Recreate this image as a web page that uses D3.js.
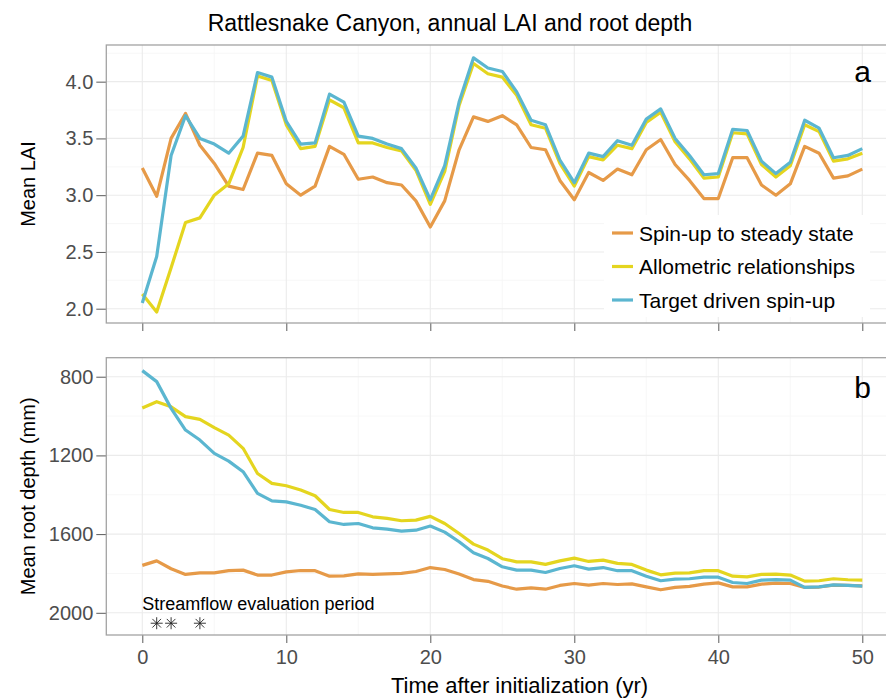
<!DOCTYPE html>
<html>
<head>
<meta charset="utf-8">
<script src="https://cdn.jsdelivr.net/npm/d3@7"></script>
<style>
  html, body { margin: 0; padding: 0; background: #fff; }
  svg { display: block; font-family: "Liberation Sans", Arial, Helvetica, sans-serif; }
</style>
</head>
<body>
<svg id="chart" width="886" height="700"></svg>
<script>
// ---------------- DATA ----------------
const years = d3.range(0, 51);
const seriesNames = ["Spin-up to steady state", "Allometric relationships", "Target driven spin-up"];
const seriesColors = ["#e69a48", "#e4d51f", "#5bb6d0"];

const laiSpinup = [3.24,2.99,3.50,3.72,3.44,3.28,3.08,3.05,3.37,3.35,3.10,3.00,3.08,3.43,3.36,3.14,3.16,3.11,3.09,2.95,2.72,2.95,3.40,3.69,3.65,3.70,3.62,3.42,3.40,3.13,2.96,3.20,3.13,3.23,3.18,3.40,3.49,3.27,3.13,2.97,2.97,3.33,3.33,3.09,3.00,3.10,3.43,3.37,3.15,3.17,3.23];
const laiAllometric = [2.13,1.97,2.36,2.76,2.80,3.00,3.10,3.42,4.05,4.01,3.62,3.41,3.43,3.84,3.77,3.46,3.46,3.42,3.39,3.22,2.92,3.21,3.79,4.16,4.07,4.04,3.88,3.62,3.59,3.28,3.08,3.34,3.31,3.44,3.41,3.64,3.73,3.47,3.32,3.15,3.16,3.55,3.54,3.27,3.16,3.26,3.62,3.56,3.30,3.32,3.37];
const laiTarget = [2.05,2.46,3.35,3.70,3.50,3.45,3.37,3.52,4.08,4.04,3.65,3.45,3.46,3.89,3.82,3.52,3.50,3.45,3.41,3.24,2.96,3.26,3.82,4.21,4.12,4.09,3.91,3.66,3.62,3.31,3.11,3.37,3.34,3.48,3.44,3.67,3.76,3.50,3.35,3.18,3.19,3.58,3.57,3.30,3.19,3.29,3.66,3.59,3.33,3.35,3.41];

const rootSpinup = [1759,1736,1776,1805,1797,1797,1786,1783,1808,1808,1792,1785,1786,1814,1812,1802,1805,1802,1800,1790,1770,1780,1803,1831,1840,1864,1880,1873,1880,1861,1851,1859,1851,1856,1853,1868,1883,1871,1866,1854,1848,1868,1868,1854,1849,1851,1871,1869,1859,1861,1863];
const rootAllometric = [959,927,953,1003,1017,1059,1097,1164,1292,1342,1354,1376,1405,1475,1490,1490,1512,1520,1532,1529,1510,1546,1597,1651,1681,1725,1741,1741,1754,1736,1722,1739,1732,1749,1754,1783,1807,1798,1797,1786,1786,1814,1817,1805,1803,1808,1839,1837,1827,1832,1834];
const rootTarget = [769,825,961,1071,1122,1190,1229,1283,1393,1431,1436,1453,1475,1537,1551,1546,1568,1575,1585,1580,1559,1590,1639,1695,1724,1766,1783,1783,1795,1775,1761,1778,1770,1786,1786,1814,1837,1829,1827,1819,1819,1846,1851,1834,1831,1834,1871,1868,1858,1861,1864];

const xTicks = [0, 10, 20, 30, 40, 50];
const xMinor = [5, 15, 25, 35, 45];
const laiTicks = [2.0, 2.5, 3.0, 3.5, 4.0];
const laiMinor = [2.25, 2.75, 3.25, 3.75, 4.25];
const rootTicks = [800, 1200, 1600, 2000];
const rootMinor = [1000, 1400, 1800];

const evalYears = [1, 2, 4];

// ---------------- LAYOUT ----------------
const svg = d3.select("#chart");
const font = "'Liberation Sans', Arial, Helvetica, sans-serif";
const borderCol = "#a3a3a3", gridMajor = "#ebebeb", gridMinor = "#f5f5f5", tickCol = "#5a5a5a", labCol = "#4d4d4d";

const x = d3.scaleLinear().domain([-2.5, 52.5]).range([106.3, 898.3]);
const yA = d3.scaleLinear().domain([1.874, 4.323]).range([323, 45]);
const yB = d3.scaleLinear().domain([703.4, 2112.8]).range([357.7, 635]);

function panel(y, ticks, minor, showXLabels, fmt) {
  const [y0, y1] = y.range();
  const top = Math.min(y0, y1), bot = Math.max(y0, y1);
  const left = x.range()[0], right = x.range()[1];
  const g = svg.append("g");
  g.selectAll(".gmx").data(xMinor).join("line")
    .attr("x1", d => x(d)).attr("x2", d => x(d)).attr("y1", top).attr("y2", bot)
    .attr("stroke", gridMinor).attr("stroke-width", 0.8);
  g.selectAll(".gmy").data(minor).join("line")
    .attr("x1", left).attr("x2", right).attr("y1", d => y(d)).attr("y2", d => y(d))
    .attr("stroke", gridMinor).attr("stroke-width", 0.8);
  g.selectAll(".gMx").data(xTicks).join("line")
    .attr("x1", d => x(d)).attr("x2", d => x(d)).attr("y1", top).attr("y2", bot)
    .attr("stroke", gridMajor).attr("stroke-width", 1.1);
  g.selectAll(".gMy").data(ticks).join("line")
    .attr("x1", left).attr("x2", right).attr("y1", d => y(d)).attr("y2", d => y(d))
    .attr("stroke", gridMajor).attr("stroke-width", 1.1);

  const ay = svg.append("g").attr("transform", `translate(${left},0)`)
    .call(d3.axisLeft(y).tickValues(ticks).tickFormat(fmt).tickSize(10).tickPadding(3));
  ay.select(".domain").remove();
  ay.selectAll(".tick line").attr("stroke", tickCol);
  ay.selectAll(".tick text").attr("fill", labCol).attr("font-size", 20).attr("font-family", font);

  const ax = svg.append("g").attr("transform", `translate(0,${bot})`)
    .call(d3.axisBottom(x).tickValues(xTicks).tickSize(8).tickPadding(7).tickFormat(showXLabels ? d3.format("d") : () => ""));
  ax.select(".domain").remove();
  ax.selectAll(".tick line").attr("stroke", tickCol);
  ax.selectAll(".tick text").attr("fill", labCol).attr("font-size", 20).attr("font-family", font);

  return { g, top, bot, left, right };
}

const pA = panel(yA, laiTicks, laiMinor, false, d3.format(".1f"));
const pB = panel(yB, rootTicks, rootMinor, true, d3.format("d"));

const legendRows = seriesNames.map((n, i) => ({ name: n, color: seriesColors[i], i }));

function drawLines(p, y, data) {
  const line = d3.line().x((d, i) => x(years[i])).y(d => y(d));
  p.g.selectAll(".series").data(data).join("path")
    .attr("d", d => line(d))
    .attr("fill", "none")
    .attr("stroke", (d, i) => seriesColors[i])
    .attr("stroke-width", 3.2)
    .attr("stroke-linejoin", "round");
}

drawLines(pA, yA, [laiSpinup, laiAllometric, laiTarget]);
drawLines(pB, yB, [rootSpinup, rootAllometric, rootTarget]);

// legend
const lg = svg.append("g");
lg.append("rect").attr("x", 604).attr("y", 215).attr("width", 266).attr("height", 102).attr("fill", "#fff");
const rows = lg.selectAll(".row").data(legendRows).join("g")
  .attr("transform", d => `translate(0,${233 + d.i * 33.5})`);
rows.append("line").attr("x1", 612).attr("x2", 633).attr("y1", 0).attr("y2", 0)
  .attr("stroke", d => d.color).attr("stroke-width", 3.2);
rows.append("text").attr("x", 639).attr("y", 0).attr("dy", "0.36em")
  .attr("font-size", 21).attr("font-family", font).attr("fill", "#000").text(d => d.name);

// panel borders
[pA, pB].forEach(p => {
  svg.append("rect").attr("x", p.left).attr("y", p.top).attr("width", p.right - p.left).attr("height", p.bot - p.top)
    .attr("fill", "none").attr("stroke", borderCol).attr("stroke-width", 1.3);
});

// panel tags
svg.append("text").attr("x", 871).attr("y", 82).attr("text-anchor", "end").attr("font-size", 30)
  .attr("font-family", font).text("a");
svg.append("text").attr("x", 871).attr("y", 398).attr("text-anchor", "end").attr("font-size", 30)
  .attr("font-family", font).text("b");

// streamflow annotation
svg.append("text").attr("x", x(0)).attr("y", yB(1986)).attr("font-size", 18).attr("font-family", font)
  .attr("fill", "#000").text("Streamflow evaluation period");
const ast = svg.append("g");
const r = 6;
ast.selectAll("g").data(evalYears).join("g")
  .attr("transform", d => `translate(${x(d)},${yB(2053)})`)
  .each(function () {
    const s = d3.select(this);
    [[-r, 0, r, 0], [0, -r, 0, r], [-r * 0.72, -r * 0.72, r * 0.72, r * 0.72], [-r * 0.72, r * 0.72, r * 0.72, -r * 0.72]]
      .forEach(c => s.append("line").attr("x1", c[0]).attr("y1", c[1]).attr("x2", c[2]).attr("y2", c[3])
        .attr("stroke", "#222").attr("stroke-width", 0.9));
  });

// titles
svg.append("text").attr("x", 450).attr("y", 31).attr("text-anchor", "middle").attr("font-size", 23)
  .attr("font-family", font).attr("fill", "#000").text("Rattlesnake Canyon, annual LAI and root depth");
svg.append("text").attr("x", 391).attr("y", 693).attr("text-anchor", "start").attr("font-size", 22)
  .attr("font-family", font).attr("fill", "#000").text("Time after initialization (yr)");
svg.append("text").attr("transform", `translate(35,${(pA.top + pA.bot) / 2}) rotate(-90)`).attr("text-anchor", "middle")
  .attr("font-size", 20).attr("font-family", font).attr("fill", "#000").text("Mean LAI");
svg.append("text").attr("transform", `translate(35,${(pB.top + pB.bot) / 2}) rotate(-90)`).attr("text-anchor", "middle")
  .attr("font-size", 20).attr("font-family", font).attr("fill", "#000").text("Mean root depth (mm)");
</script>
</body>
</html>
